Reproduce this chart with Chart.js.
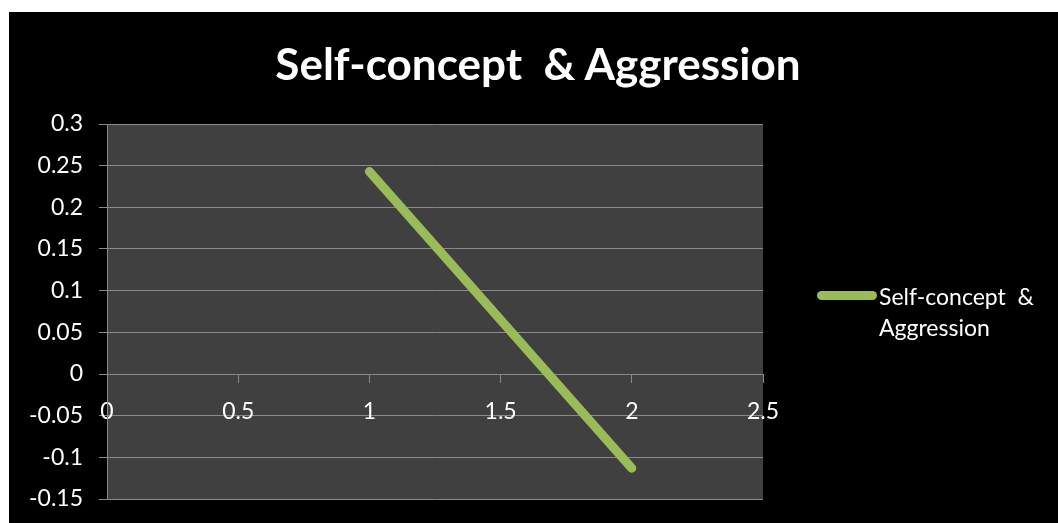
<!DOCTYPE html>
<html>
<head>
<meta charset="utf-8">
<script src="https://cdn.jsdelivr.net/npm/chart.js@4.4.0/dist/chart.umd.min.js"></script>
<style>
  body { margin: 0; background: #fff; }
  #box { position: absolute; left: 9px; top: 12px; width: 1049px; height: 511px; background: #000; }
  #title { position: absolute; left: 0; top: 29px; width: 1058px; text-align: center; white-space: pre;
           font: bold 44px Lato, sans-serif; line-height: 44px; color: #fff; }
  #legend { position: absolute; left: 808px; top: 269px; color: #fff; font: 23px Lato, sans-serif; line-height: 31px; }
  #legend .swatch { position: absolute; left: 0; top: 10px; width: 60px; height: 9px; border-radius: 5px; background: #9BBB59; }
  #legend .txt { margin-left: 62px; white-space: pre; }
</style>
</head>
<body>
<div id="box">
  <canvas id="mycan1" width="1049" height="511"></canvas>
  <div id="title">Self-concept  &amp; Aggression</div>
  <div id="legend"><div class="swatch"></div><div class="txt">Self-concept  &amp;
Aggression</div></div>
</div>
<script>
var seriesName = 'Self-concept  & Aggression';
var xValues = [1, 2];
var yValues = [0.243, -0.113];

var points = [];
for (var i in xValues) {
  points.push({ x: xValues[i], y: yValues[i] });
}

// plot area background
var plotBg = {
  id: 'plotBg',
  beforeDraw: function(chart) {
    var a = chart.chartArea, c = chart.ctx;
    c.save();
    c.fillStyle = '#404040';
    c.fillRect(a.left, a.top, a.right - a.left, a.bottom - a.top);
    c.restore();
  }
};

// 0.30 -> 0.3, 1.0 -> 1
function fmt(v) { return String(Number(v.toFixed(2))); }

var gridCol = '#8a8a8a';
var ctx = document.getElementById('mycan1');
var chart = new Chart(ctx, {
  type: 'line',
  data: {
    datasets: [{
      label: seriesName,
      data: points,
      borderColor: '#9BBB59',
      borderWidth: 9,
      borderCapStyle: 'round',
      pointRadius: 0,
      tension: 0
    }]
  },
  options: {
    responsive: false,
    animation: false,
    layout: { padding: { top: 112, right: 295, bottom: 24, left: 0 } },
    plugins: { legend: { display: false }, title: { display: false }, tooltip: { enabled: false } },
    scales: {
      x: {
        type: 'linear',
        position: { y: 0 },
        min: 0, max: 2.5,
        ticks: { stepSize: 0.5, color: '#fff', font: { family: 'Lato', size: 23 }, padding: 16, maxRotation: 0, callback: fmt },
        grid: { drawOnChartArea: false, drawTicks: true, tickLength: 8, color: gridCol },
        border: { color: gridCol },
        afterFit: function(s) { s.height = 0; s.paddingLeft = 0; s.paddingRight = 0; s.paddingTop = 0; s.paddingBottom = 0; }
      },
      y: {
        min: -0.15, max: 0.3,
        ticks: { stepSize: 0.05, color: '#fff', font: { family: 'Lato', size: 23 }, padding: 16, callback: fmt },
        grid: { color: gridCol, tickLength: 8 },
        border: { color: gridCol },
        afterFit: function(s) { s.width = 98; s.paddingTop = 0; s.paddingBottom = 0; }
      }
    }
  },
  plugins: [plotBg]
});
</script>
</body>
</html>
